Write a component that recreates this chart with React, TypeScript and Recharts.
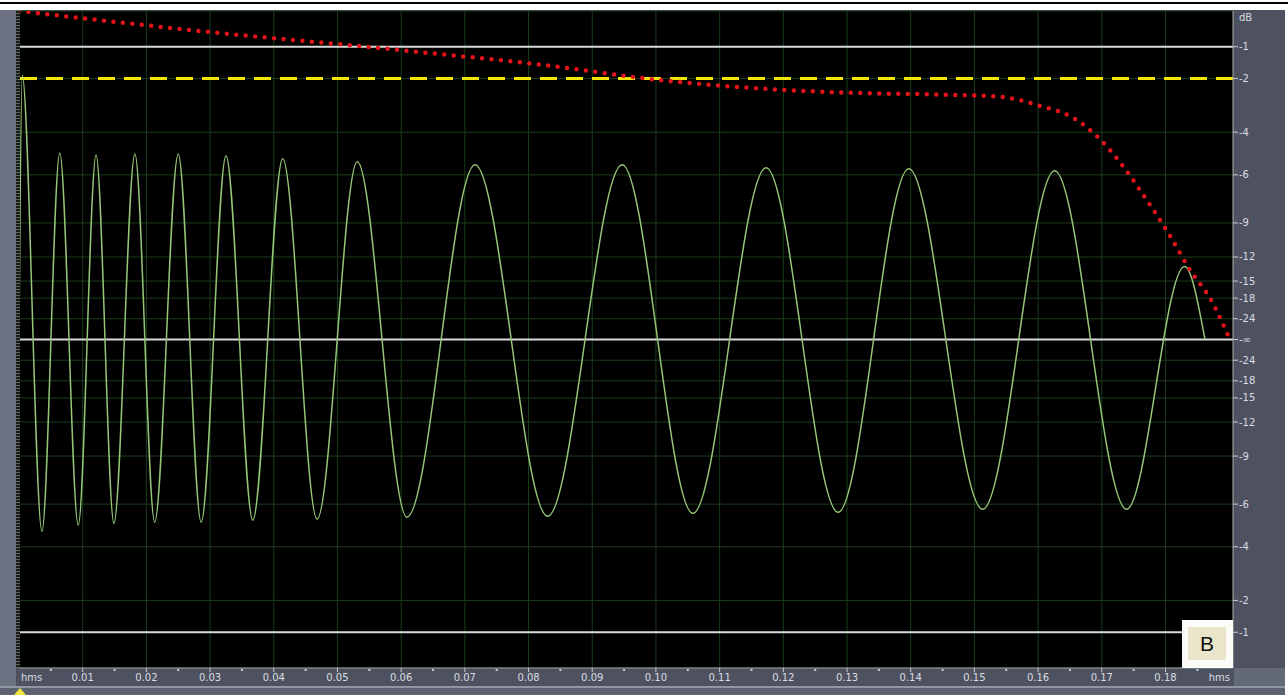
import { LineChart, Line, XAxis, YAxis, CartesianGrid, ReferenceLine } from 'recharts';

// time (s) of each peak / trough of the sweep
const waveTime = [0, 0.0005, 0.0036, 0.0064, 0.0093, 0.0121, 0.0149, 0.0182, 0.0213, 0.025, 0.0286, 0.0325, 0.0367, 0.0414, 0.0468, 0.0531, 0.0609, 0.0716, 0.083, 0.0947, 0.1058, 0.1173, 0.1286, 0.1397, 0.1513, 0.1626, 0.1739, 0.183, 0.1862];
const waveLevel = [0, 0.805, -0.584, 0.568, -0.565, 0.562, -0.559, 0.565, -0.556, 0.565, -0.556, 0.559, -0.55, 0.55, -0.547, 0.541, -0.541, 0.532, -0.538, 0.532, -0.529, 0.523, -0.526, 0.52, -0.517, 0.514, -0.517, 0.222, 0];

// red dotted envelope
const envTime = [0, 0.0284, 0.0598, 0.0834, 0.0991, 0.1148, 0.1305, 0.1462, 0.1541, 0.1603, 0.1655, 0.169, 0.1728, 0.1767, 0.1805, 0.1839, 0.1871, 0.1899];
const envLevel = [1.0, 0.939, 0.881, 0.833, 0.793, 0.766, 0.751, 0.745, 0.739, 0.711, 0.675, 0.623, 0.541, 0.435, 0.322, 0.21, 0.122, 0.009];

const timeTicks = [0.01, 0.02, 0.03, 0.04, 0.05, 0.06, 0.07, 0.08, 0.09, 0.1, 0.11, 0.12, 0.13, 0.14, 0.15, 0.16, 0.17, 0.18];
const minorTicks = [0.005, 0.015, 0.025, 0.035, 0.045, 0.055, 0.065, 0.075, 0.085, 0.095, 0.105, 0.115, 0.125, 0.135, 0.145, 0.155, 0.165, 0.175, 0.185];
const timeLabels = ['0.01', '0.02', '0.03', '0.04', '0.05', '0.06', '0.07', '0.08', '0.09', '0.10', '0.11', '0.12', '0.13', '0.14', '0.15', '0.16', '0.17', '0.18'];
const T_END = 0.1906;

const dbLabels = [-1, -2, -4, -6, -9, -12, -15, -18, -24];

const amp = (db: number) => Math.pow(10, db / 20);

const waveData = waveTime.map((t, i) => ({ t, a: waveLevel[i] }));
const envData = envTime.map((t, i) => ({ t, a: envLevel[i] }));

const yTicks: number[] = [1];
const yText: string[] = ['dB'];
dbLabels.forEach((d) => { yTicks.push(amp(d)); yText.push(String(d)); });
yTicks.push(0); yText.push('-∞');
dbLabels.slice().reverse().forEach((d) => { yTicks.push(-amp(d)); yText.push(String(d)); });

const xTicks = [0, ...timeTicks, ...minorTicks, T_END].sort((a, b) => a - b);

const labelStyle = { fontFamily: 'DejaVu Sans, sans-serif', fontSize: 10, fill: '#d9dce1' };

const TimeTick = ({ x, y, payload }: any) => {
  const v = payload.value;
  if (v === 0) return <text x={x + 2} y={y + 13} {...labelStyle}>hms</text>;
  if (v === T_END) return <text x={x - 3} y={y + 13} textAnchor="end" {...labelStyle}>hms</text>;
  const i = timeTicks.findIndex((t) => Math.abs(t - v) < 1e-6);
  if (i < 0) return <rect x={x - 1} y={y + 1} width={2} height={2} fill="#c8ccd2" />;
  return (
    <g>
      <line x1={x} x2={x} y1={y} y2={y + 4} stroke="#c8ccd2" />
      <text x={x} y={y + 13} textAnchor="middle" {...labelStyle}>{timeLabels[i]}</text>
    </g>
  );
};

const LevelTick = ({ x, y, payload }: any) => {
  const i = yTicks.findIndex((t) => Math.abs(t - payload.value) < 1e-6);
  if (i === 0) return <text x={x + 6} y={y + 10} {...labelStyle}>dB</text>;
  return (
    <g>
      <line x1={x} x2={x + 5} y1={y} y2={y} stroke="#c8ccd2" />
      <text x={x + 6} y={y + 3.5} {...labelStyle}>{yText[i]}</text>
    </g>
  );
};

const App = () => {
  return (
    <div style={{ position: 'absolute', top: 0, left: 0, width: 1288, height: 695, background: '#4e5260', overflow: 'hidden' }}>
      <LineChart width={1288} height={695} data={waveData} margin={{ top: 11, right: 0, left: 19, bottom: 0 }}>
        <CartesianGrid vertical={false} stroke="#1d3d1d" fill="#000" />
        {timeTicks.map((t) => (
          <ReferenceLine key={t} x={t} stroke="#1a3c1c" />
        ))}
        <XAxis
          type="number"
          dataKey="t"
          domain={[0, T_END]}
          ticks={xTicks}
          interval={0}
          height={27}
          tickSize={0}
          tickMargin={0}
          tickLine={false}
          axisLine={{ stroke: '#a9adb3' }}
          tick={<TimeTick />}
          allowDataOverflow
        />
        <YAxis
          type="number"
          orientation="right"
          domain={[-1, 1]}
          ticks={yTicks}
          interval={0}
          width={55}
          tickSize={0}
          tickMargin={0}
          tickLine={false}
          axisLine={{ stroke: '#a9b0a9' }}
          tick={<LevelTick />}
          allowDataOverflow
        />
        <ReferenceLine y={amp(-1)} stroke="#d9d9d9" strokeWidth={2} />
        <ReferenceLine y={-amp(-1)} stroke="#d9d9d9" strokeWidth={2} />
        <ReferenceLine y={0} stroke="#d9d9d9" strokeWidth={2} />
        <ReferenceLine y={amp(-2)} stroke="#f2e600" strokeWidth={3} strokeDasharray="17 9" />
        <Line
          data={waveData}
          dataKey="a"
          type="monotone"
          stroke="#95c677"
          strokeWidth={1.5}
          dot={false}
          isAnimationActive={false}
        />
        <Line
          data={envData}
          dataKey="a"
          type="monotone"
          stroke="#e3141a"
          strokeWidth={4.5}
          strokeDasharray="0 9.5"
          strokeLinecap="round"
          dot={false}
          isAnimationActive={false}
        />
      </LineChart>

      {/* window chrome */}
      <div style={{ position: 'absolute', top: 0, left: 0, width: 1288, height: 10, background: '#fff' }} />
      <div style={{ position: 'absolute', top: 2, left: 0, width: 1288, height: 2, background: '#000' }} />
      <div style={{ position: 'absolute', top: 10, left: 0, width: 16, height: 676, background: '#6c7282' }} />
      <div
        style={{
          position: 'absolute', top: 10, left: 16, width: 4, height: 658,
          background: 'repeating-linear-gradient(to bottom, #5e6a5e 0px, #5e6a5e 1px, #1a1c1a 1px, #1a1c1a 3px)',
        }}
      />
      <div style={{ position: 'absolute', top: 10, left: 1285, width: 3, height: 685, background: '#fff' }} />
      <div style={{ position: 'absolute', top: 668, left: 1234, width: 51, height: 18, background: '#646976' }} />
      <div style={{ position: 'absolute', top: 686, left: 0, width: 1285, height: 2, background: '#9096a2' }} />
      <div style={{ position: 'absolute', top: 688, left: 0, width: 1285, height: 7, background: '#5d6270' }} />
      <svg style={{ position: 'absolute', top: 687, left: 13 }} width={16} height={8}>
        <polygon points="1,8 7,1 13,8" fill="#f2e23c" />
      </svg>

      {/* channel badge */}
      <div style={{ position: 'absolute', top: 620, left: 1182, width: 51, height: 48, background: '#fbfbf8' }}>
        <div
          style={{
            position: 'absolute', top: 7, left: 6, width: 38, height: 33, background: '#ebe5cb',
            fontFamily: 'Liberation Sans, Arial, sans-serif', fontSize: 21, color: '#111',
            display: 'flex', alignItems: 'center', justifyContent: 'center',
          }}
        >
          B
        </div>
      </div>
    </div>
  );
};

export default App;
